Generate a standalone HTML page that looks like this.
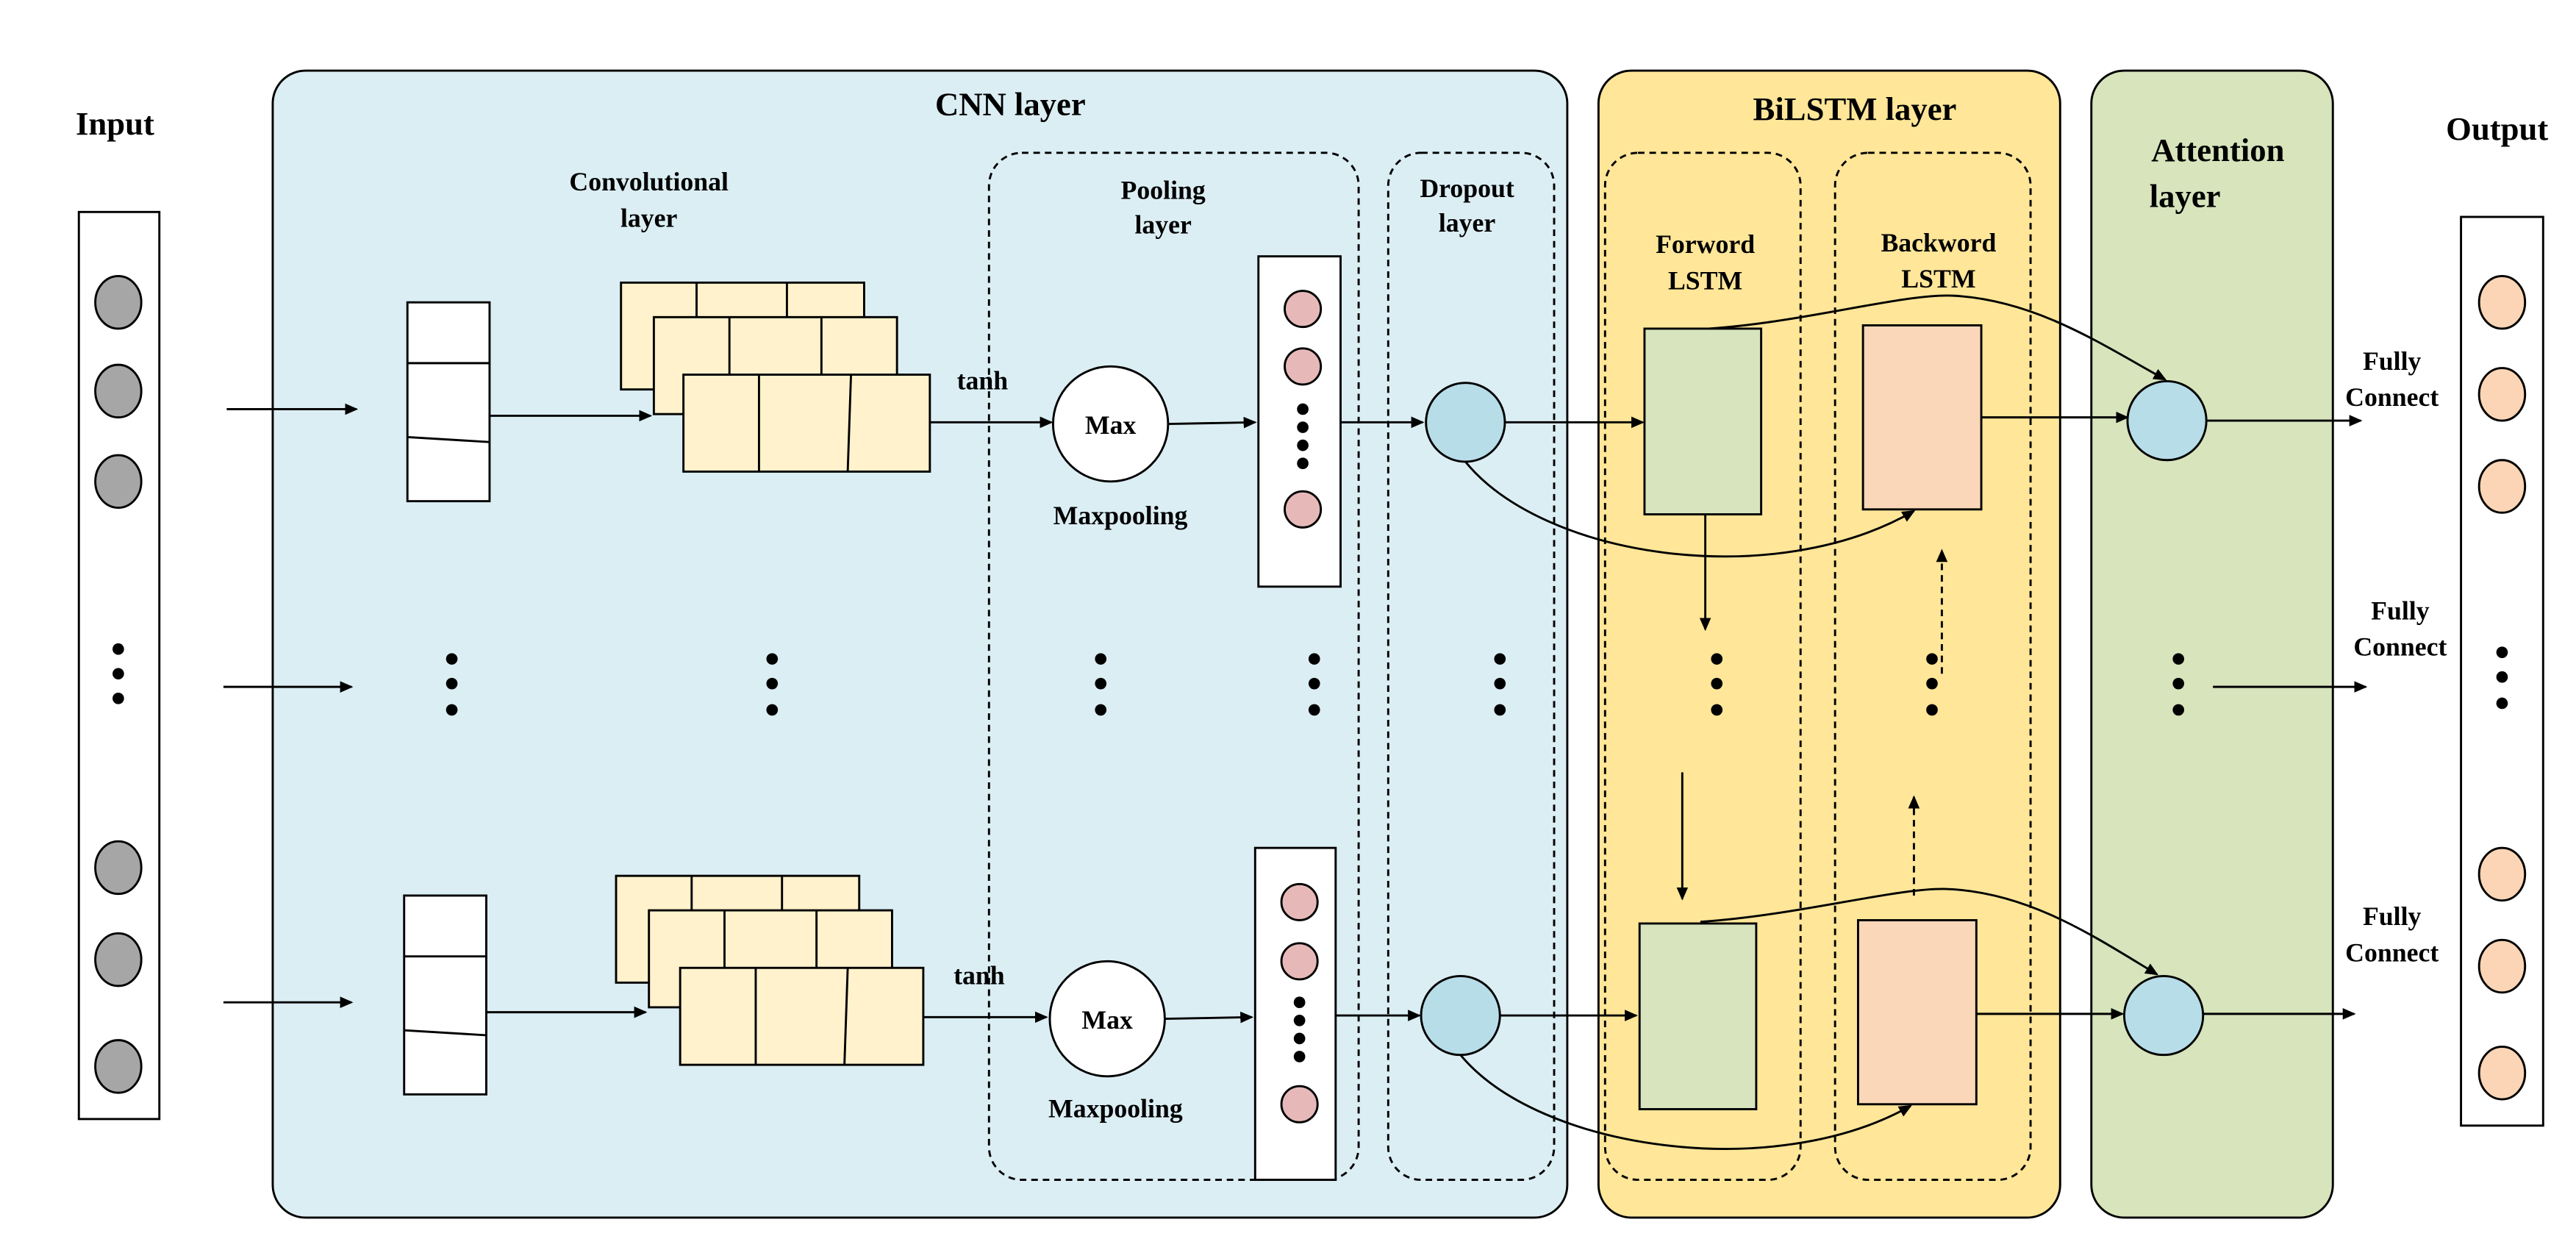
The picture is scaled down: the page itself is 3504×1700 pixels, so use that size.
<!DOCTYPE html>
<html><head><meta charset="utf-8"><style>html,body{margin:0;padding:0;background:#fff}svg{display:block}text{font-family:"Liberation Serif",serif;font-weight:bold;fill:#000}</style></head><body>
<svg width="3504" height="1700" viewBox="0 0 1568 760.7" preserveAspectRatio="none" xmlns="http://www.w3.org/2000/svg">
<defs><marker id="a" markerWidth="8" markerHeight="8" refX="7" refY="4" orient="auto" markerUnits="userSpaceOnUse"><path d="M0,0.5 L8,4 L0,7.5 Z" fill="#000"/></marker>
<g id="d"><circle cx="0" cy="401" r="3.5"/><circle cx="0" cy="416" r="3.5"/><circle cx="0" cy="432" r="3.5"/></g></defs>
<g stroke="#000" stroke-width="1.3">
<rect x="166" y="43" width="788" height="698" rx="20" fill="#dbeef4"/>
<rect x="973" y="43" width="281" height="698" rx="20" fill="#ffe699"/>
<rect x="1273" y="43" width="147" height="698" rx="20" fill="#d7e4bc"/>
<g fill="none" stroke-dasharray="4,3">
<rect x="602" y="93" width="225" height="625" rx="20"/>
<rect x="845" y="93" width="101" height="625" rx="20"/>
<rect x="977" y="93" width="119" height="625" rx="20"/>
<rect x="1117" y="93" width="119" height="625" rx="20"/>
</g>
<rect x="48" y="129" width="49" height="552" fill="#fff"/>
<rect x="1498" y="132" width="50" height="553" fill="#fff"/>
<g fill="#a6a6a6"><ellipse cx="72" cy="184" rx="14" ry="16"/><ellipse cx="72" cy="238" rx="14" ry="16"/><ellipse cx="72" cy="293" rx="14" ry="16"/><ellipse cx="72" cy="528" rx="14" ry="16"/><ellipse cx="72" cy="584" rx="14" ry="16"/><ellipse cx="72" cy="649" rx="14" ry="16"/></g>
<g fill="#fbd5b5"><ellipse cx="1523" cy="184" rx="14" ry="16"/><ellipse cx="1523" cy="240" rx="14" ry="16"/><ellipse cx="1523" cy="296" rx="14" ry="16"/><ellipse cx="1523" cy="532" rx="14" ry="16"/><ellipse cx="1523" cy="588" rx="14" ry="16"/><ellipse cx="1523" cy="653" rx="14" ry="16"/></g>
<rect x="248" y="184" width="50" height="121" fill="#fff"/><path d="M248,221H298M248,266L298,269"/>
<rect x="378" y="172" width="148" height="65" fill="#fff2cc"/><path d="M424,172V237M479,172V237"/>
<rect x="398" y="193" width="148" height="59" fill="#fff2cc"/><path d="M444,193V252M500,193V252"/>
<rect x="416" y="228" width="150" height="59" fill="#fff2cc"/><path d="M462,228V287M518,228L516,287"/>
<circle cx="676" cy="258" r="35" fill="#fff"/>
<rect x="766" y="156" width="50" height="201" fill="#fff"/>
<g fill="#e6b9b8"><circle cx="793" cy="188" r="11"/><circle cx="793" cy="223" r="11"/><circle cx="793" cy="310" r="11"/></g>
<circle cx="892" cy="257" r="24" fill="#b7dde8"/>
<rect x="1001" y="200" width="71" height="113" fill="#d7e4bd"/>
<rect x="1134" y="198" width="72" height="112" fill="#fad7b8"/>
<circle cx="1319" cy="256" r="24" fill="#b7dde8"/>
<rect x="246" y="545" width="50" height="121" fill="#fff"/><path d="M246,582H296M246,627L296,630"/>
<rect x="375" y="533" width="148" height="65" fill="#fff2cc"/><path d="M421,533V598M476,533V598"/>
<rect x="395" y="554" width="148" height="59" fill="#fff2cc"/><path d="M441,554V613M497,554V613"/>
<rect x="414" y="589" width="148" height="59" fill="#fff2cc"/><path d="M460,589V648M516,589L514,648"/>
<circle cx="674" cy="620" r="35" fill="#fff"/>
<rect x="764" y="516" width="49" height="202" fill="#fff"/>
<g fill="#e6b9b8"><circle cx="791" cy="549" r="11"/><circle cx="791" cy="585" r="11"/><circle cx="791" cy="672" r="11"/></g>
<circle cx="889" cy="618" r="24" fill="#b7dde8"/>
<rect x="998" y="562" width="71" height="113" fill="#d7e4bd"/>
<rect x="1131" y="560" width="72" height="112" fill="#fad7b8"/>
<circle cx="1317" cy="618" r="24" fill="#b7dde8"/>
<g fill="none" marker-end="url(#a)">
<path d="M138,249H217"/><path d="M298,253H396"/><path d="M566,257H640"/><path d="M711,258L764,257"/><path d="M816,257H866"/><path d="M916,257H1000"/><path d="M1206,254H1295"/><path d="M1343,256H1437"/>
<path d="M892,281C940,340 1080,360 1165,311"/><path d="M1040,200C1100,196 1160,178 1190,180C1240,183 1280,210 1318,231"/>
<path d="M1038,313V383"/><path d="M1182,410V335" stroke-dasharray="4,3"/>
<path d="M136,418H214"/><path d="M1347,418H1440"/>
<path d="M1024,470V547"/><path d="M1165,545V485" stroke-dasharray="4,3"/>
<path d="M136,610H214"/><path d="M296,616H393"/><path d="M562,619H637"/><path d="M709,620L762,619"/><path d="M813,618H864"/><path d="M913,618H996"/><path d="M1203,617H1292"/><path d="M1341,617H1433"/>
<path d="M889,642C937,700 1080,720 1163,673"/><path d="M1035,561C1095,557 1155,540 1185,541C1235,543 1275,570 1313,593"/>
</g>
</g>
<g fill="#000">
<circle cx="72" cy="395" r="3.5"/><circle cx="72" cy="410" r="3.5"/><circle cx="72" cy="425" r="3.5"/>
<circle cx="1523" cy="397" r="3.5"/><circle cx="1523" cy="412" r="3.5"/><circle cx="1523" cy="428" r="3.5"/>
<use href="#d" x="275"/><use href="#d" x="470"/><use href="#d" x="670"/><use href="#d" x="800"/><use href="#d" x="913"/><use href="#d" x="1045"/><use href="#d" x="1176"/><use href="#d" x="1326"/>
<circle cx="793" cy="249" r="3.5"/><circle cx="793" cy="260" r="3.5"/><circle cx="793" cy="271" r="3.5"/><circle cx="793" cy="282" r="3.5"/>
<circle cx="791" cy="610" r="3.5"/><circle cx="791" cy="621" r="3.5"/><circle cx="791" cy="632" r="3.5"/><circle cx="791" cy="643" r="3.5"/>
</g>
<g text-anchor="middle" font-size="16">
<text x="70" y="82" font-size="20">Input</text>
<text x="1520" y="85" font-size="20">Output</text>
<text x="615" y="70" font-size="20">CNN layer</text>
<text x="1129" y="73" font-size="20">BiLSTM layer</text>
<text x="1350" y="98" font-size="20">Attention</text><text x="1330" y="126" font-size="20">layer</text>
<text x="395" y="116">Convolutional</text><text x="395" y="138">layer</text>
<text x="708" y="121">Pooling</text><text x="708" y="142">layer</text>
<text x="893" y="120">Dropout</text><text x="893" y="141">layer</text>
<text x="1038" y="154">Forword</text><text x="1038" y="176">LSTM</text>
<text x="1180" y="153">Backword</text><text x="1180" y="175">LSTM</text>
<text x="598" y="237">tanh</text><text x="596" y="599">tanh</text>
<text x="676" y="264">Max</text><text x="674" y="626">Max</text>
<text x="682" y="319">Maxpooling</text><text x="679" y="680">Maxpooling</text>
<text x="1456" y="225">Fully</text><text x="1456" y="247">Connect</text>
<text x="1461" y="377">Fully</text><text x="1461" y="399">Connect</text>
<text x="1456" y="563">Fully</text><text x="1456" y="585">Connect</text>
</g>
</svg>
</body></html>
